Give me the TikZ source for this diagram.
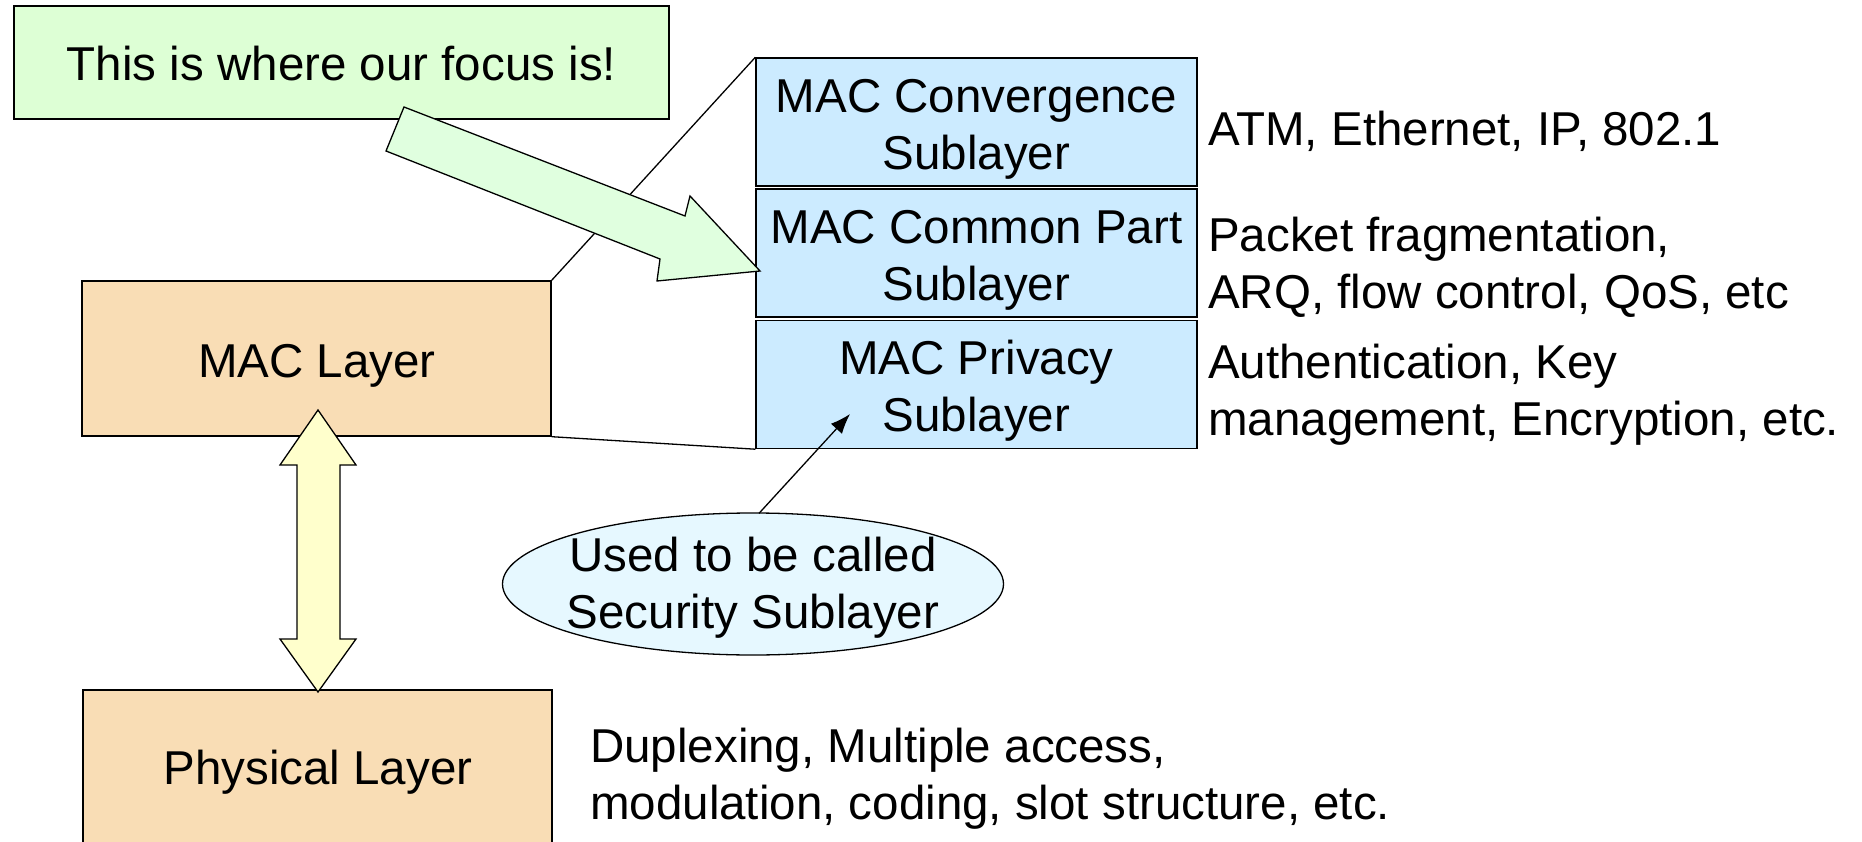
\documentclass[tikz,border=0pt]{standalone}
\usepackage{fontspec}
\setmainfont{Liberation Sans}
\usetikzlibrary{shapes.geometric,arrows.meta}
\definecolor{notegreen}{HTML}{DDFFD5}
\definecolor{arrowgreen}{HTML}{E0FFDF}
\definecolor{subblue}{HTML}{CCEBFF}
\definecolor{layerorange}{HTML}{F9DDB5}
\definecolor{arrowyellow}{HTML}{FFFFCC}
\definecolor{ellblue}{HTML}{E6F8FF}
\tikzset{
  txt/.style={font=\fontsize{47.5}{57}\selectfont, inner sep=0pt},
  notebox/.style={txt, draw, line width=1.4pt, fill=notegreen},
  subbox/.style={txt, draw, line width=1.4pt, fill=subblue, minimum width=441pt, minimum height=128pt},
  layerbox/.style={txt, draw, line width=1.4pt, fill=layerorange, minimum width=469pt},
  desc/.style={txt, align=left, anchor=west},
  conn/.style={line width=1.3pt},
  blockarrow/.style={draw, line width=1.3pt, line join=miter},
}
\begin{document}
\begin{tikzpicture}[x=1pt,y=-1pt]
\useasboundingbox (0,0) rectangle (1862,842);
\begin{scope}
\clip (0,0) rectangle (1862,842);
% note
\node[notebox, minimum width=655pt, minimum height=113pt] (note) at (341.5,62.5) {};
\node[txt] (notetext) at (341.5,64) {This is where our focus is!};
% sublayers
\node[subbox] (conv) at (976.5,122) {};
\node[subbox] (cps) at (976.5,253) {};
\node[subbox] (priv) at (976.5,384.5) {};
\node[txt, align=center] (convtext) at (976.5,129) {MAC Convergence\\Sublayer};
\node[txt, align=center] (cpstext) at (976.5,260) {MAC Common Part\\Sublayer};
\node[txt, align=center] (privtext) at (976.5,391) {MAC Privacy\\Sublayer};
% layers
\node[layerbox, minimum height=155pt] (mac) at (316.5,358.5) {};
\node[txt] (mactext) at (317,366) {MAC Layer};
\node[layerbox, minimum height=230pt] (phy) at (317.5,805) {};
\node[txt] (phylabel) at (318,772) {Physical Layer};
% descriptions
\node[desc] (d1) at (1208,131) {ATM, Ethernet, IP, 802.1};
\node[desc] (d2) at (1208,267) {Packet fragmentation,\\ARQ, flow control, QoS, etc};
\node[desc] (d3) at (1208,395) {Authentication, Key\\management, Encryption, etc.};
\node[desc] (d4) at (590,779) {Duplexing, Multiple access,\\modulation, coding, slot structure, etc.};
% zoom lines
\draw[conn] (mac.north east) -- (conv.north west);
\draw[conn] (mac.south east) -- (priv.south west);
% ellipse note
\node[ellipse, draw, line width=1.3pt, fill=ellblue, inner sep=0pt, minimum width=501pt, minimum height=142pt] (ell) at (753,584) {};
\node[txt, align=center] (elltext) at (753,588) {Used to be called\\Security Sublayer};
\coordinate (privpt) at (850,414);
\draw[conn, -{Latex[length=20pt,width=15pt]}] ([xshift=6pt,yshift=-1pt]ell.north) -- (privpt);
% big green arrow
\coordinate (ga1) at (404,107);
\coordinate (ga2) at (685,216);
\coordinate (ga3) at (690,196);
\coordinate (gtip) at (760,271);
\coordinate (ga5) at (657,281);
\coordinate (ga6) at (660,259);
\coordinate (ga7) at (386,151);
\draw[blockarrow, fill=arrowgreen] (ga1) -- (ga2) -- (ga3) -- (gtip) -- (ga5) -- (ga6) -- (ga7) -- cycle;
% double arrow between MAC and PHY
\coordinate (ytop) at (318,410);
\coordinate (ybot) at (318,692);
\draw[blockarrow, fill=arrowyellow] (ytop) -- (356,465) -- (340,465) -- (340,639) -- (356,639) -- (ybot) -- (280,639) -- (297,639) -- (297,465) -- (280,465) -- cycle;
\end{scope}
\end{tikzpicture}
\end{document}
